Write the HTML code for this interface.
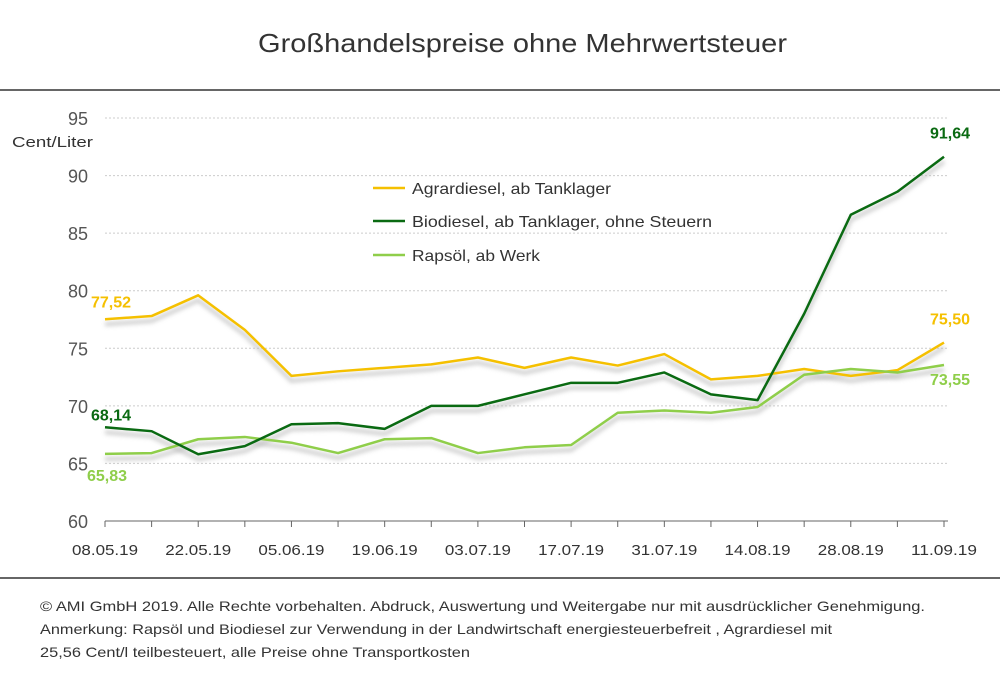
<!DOCTYPE html>
<html><head><meta charset="utf-8">
<style>
body{margin:0;background:#fff;font-family:"Liberation Sans","DejaVu Sans",sans-serif;}
#wrap{position:relative;width:1000px;height:676px;overflow:hidden;background:#fff;}
</style></head>
<body>
<div id="wrap">
<svg id="chart" width="1000" height="676" xmlns="http://www.w3.org/2000/svg">
<defs><filter id="blur" x="-5%" y="-20%" width="110%" height="140%"><feGaussianBlur stdDeviation="2"/></filter></defs>
<text x="258" y="52" textLength="529" lengthAdjust="spacingAndGlyphs" font-size="26" fill="#333">Großhandelspreise ohne Mehrwertsteuer</text>
<line x1="0" y1="90" x2="1000" y2="90" stroke="#333" stroke-width="1.5"/>
<line x1="0" y1="578" x2="1000" y2="578" stroke="#333" stroke-width="1.5"/>
<text x="12" y="147" textLength="81" lengthAdjust="spacingAndGlyphs" font-size="15" fill="#333">Cent/Liter</text>
<g id="grid"></g><g id="axes"></g><g id="shadows"></g><g id="lines"></g><g id="labels"></g>
<g>
<line x1="373" y1="188" x2="405" y2="188" stroke="#f5c000" stroke-width="2.5"/>
<text x="412" y="194" textLength="199" lengthAdjust="spacingAndGlyphs" font-size="16" fill="#333">Agrardiesel, ab Tanklager</text>
<line x1="373" y1="221" x2="405" y2="221" stroke="#0a6a12" stroke-width="2.5"/>
<text x="412" y="227" textLength="300" lengthAdjust="spacingAndGlyphs" font-size="16" fill="#333">Biodiesel, ab Tanklager, ohne Steuern</text>
<line x1="373" y1="255" x2="405" y2="255" stroke="#8fce4a" stroke-width="2.5"/>
<text x="412" y="261" textLength="128" lengthAdjust="spacingAndGlyphs" font-size="16" fill="#333">Rapsöl, ab Werk</text>
</g>
<g font-size="14" fill="#333">
<text x="40" y="611" textLength="885" lengthAdjust="spacingAndGlyphs">© AMI GmbH 2019.  Alle Rechte vorbehalten.  Abdruck, Auswertung und Weitergabe nur mit ausdrücklicher Genehmigung.</text>
<text x="40" y="634" textLength="792" lengthAdjust="spacingAndGlyphs">Anmerkung: Rapsöl und Biodiesel zur Verwendung in der Landwirtschaft energiesteuerbefreit , Agrardiesel mit</text>
<text x="40" y="657" textLength="430" lengthAdjust="spacingAndGlyphs">25,56 Cent/l teilbesteuert, alle Preise ohne Transportkosten</text>
</g>
</svg>
</div>
<script>
const dates = ["08.05.19","15.05.19","22.05.19","29.05.19","05.06.19","12.06.19","19.06.19","26.06.19","03.07.19","10.07.19","17.07.19","24.07.19","31.07.19","07.08.19","14.08.19","21.08.19","28.08.19","04.09.19","11.09.19"];
const agrardiesel = [77.52,77.8,79.6,76.6,72.6,73.0,73.3,73.6,74.2,73.3,74.2,73.5,74.5,72.3,72.6,73.2,72.6,73.1,75.50];
const biodiesel = [68.14,67.8,65.8,66.5,68.4,68.5,68.0,70.0,70.0,71.0,72.0,72.0,72.9,71.0,70.5,78.0,86.6,88.6,91.64];
const rapsoel = [65.83,65.9,67.1,67.3,66.8,65.9,67.1,67.2,65.9,66.4,66.6,69.4,69.6,69.4,69.9,72.7,73.2,72.9,73.55];
const yTicks = [60,65,70,75,80,85,90,95];

const NS="http://www.w3.org/2000/svg";
const x0=105,x1=944,yMin=60,yMax=95,py0=521,py1=118;
const xs=i=>x0+(x1-x0)*i/(dates.length-1);
const ys=v=>py0-(v-yMin)/(yMax-yMin)*(py0-py1);
function mk(tag,attrs,parent){const e=document.createElementNS(NS,tag);for(const k in attrs)e.setAttribute(k,attrs[k]);parent.appendChild(e);return e;}
const grid=document.getElementById('grid'),axes=document.getElementById('axes'),sh=document.getElementById('shadows'),ln=document.getElementById('lines'),lb=document.getElementById('labels');
yTicks.forEach(t=>{
  if(t>yMin){const g=mk('line',{x1:x0,x2:948,y1:ys(t),y2:ys(t),stroke:'#ccc','stroke-dasharray':'2,2'},grid);
  
  }
  const tx=mk('text',{x:88,y:ys(t)+7,'text-anchor':'end','font-size':'18',fill:'#555'},axes);tx.textContent=t;
  
  
});
const ax=mk('line',{x1:x0,x2:948,y1:py0,y2:py0,stroke:'#666','stroke-width':1},axes);


dates.forEach((d,i)=>{
  const tk=mk('line',{x1:xs(i),x2:xs(i),y1:py0,y2:py0+6,stroke:'#666'},axes);
  
  
  if(i%2===0){const t=mk('text',{x:xs(i),y:py0+34,'text-anchor':'middle','font-size':'15',fill:'#333',textLength:'66',lengthAdjust:'spacingAndGlyphs'},axes);t.textContent=d;
  
  }
});
function series(arr,color,name){
  const pts=arr.map((v,i)=>xs(i)+','+ys(v)).join(' ');
  const s=mk('polyline',{points:arr.map((v,i)=>xs(i)+','+(ys(v)+5)).join(' '),fill:'none',stroke:'#bbb','stroke-width':4,opacity:0.7,filter:'url(#blur)'},sh);
  
  
  const l=mk('polyline',{points:pts,fill:'none',stroke:color,'stroke-width':2.5,'stroke-linejoin':'round'},ln);
  
  
}
series(agrardiesel,'#f5c000','agrardiesel');
series(rapsoel,'#8fce4a','rapsoel');
series(biodiesel,'#0a6a12','biodiesel');
function lab(v,x,y,color,anchor,name){
  const t=mk('text',{x:x,y:y,'text-anchor':anchor,'font-size':'16','font-weight':'bold',fill:color},lb);
  t.textContent=v.toFixed(2).replace('.',',');
  
  
}
const L=dates.length-1;
lab(agrardiesel[0],91,ys(agrardiesel[0])-12,'#f5c000','start','label-agrardiesel-start');
lab(biodiesel[0],91,ys(biodiesel[0])-7,'#0a6a12','start','label-biodiesel-start');
lab(rapsoel[0],87,ys(rapsoel[0])+27,'#8fce4a','start','label-rapsoel-start');
lab(agrardiesel[L],970,ys(agrardiesel[L])-18,'#f5c000','end','label-agrardiesel-end');
lab(biodiesel[L],970,ys(biodiesel[L])-18,'#0a6a12','end','label-biodiesel-end');
lab(rapsoel[L],970,ys(rapsoel[L])+20,'#8fce4a','end','label-rapsoel-end');
</script>
</body></html>
